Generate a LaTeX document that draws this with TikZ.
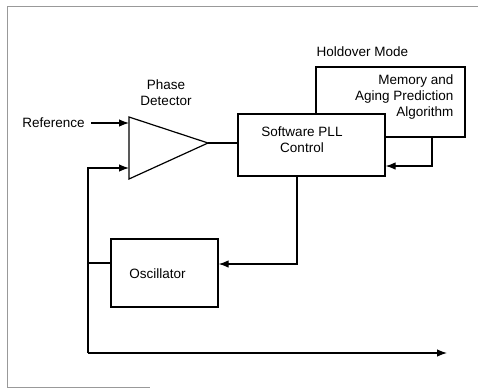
\documentclass[tikz,border=0pt]{standalone}
\usepackage{fontspec}
\setmainfont{Liberation Sans}
\usetikzlibrary{arrows.meta}
\tikzset{
  block/.style={draw, line width=1.2pt, inner sep=0pt},
  arr/.style={line width=1.2pt, -{Latex[length=10pt,width=7.5pt]}},
  wire/.style={line width=1.2pt}
}
\begin{document}
\begin{tikzpicture}[x=1pt, y=-1pt, font=\fontsize{13.5}{16}\selectfont]
\useasboundingbox (0,0) rectangle (478,388);
\draw [gray!80, line width=1pt] (478,6) -- (7,6) -- (7,387) -- (150,387);
% holdover branch
\node (holdover) [anchor=west] at (313,52) {Holdover Mode};
\node (memory) [block, minimum width=149pt, minimum height=70pt] at (390.5,102) {};
\node (memorytext) [align=right, anchor=east] at (457,97.5) {Memory and\\Aging Prediction\\Algorithm};
% phase detector
\coordinate (pdtop) at (129,117);
\coordinate (pdbot) at (129,179);
\coordinate (pdtip) at (208,143);
\coordinate (pdin1) at (129,123);
\coordinate (pdin2) at (129,168);
\draw [wire, line join=miter] (pdtop) -- (pdtip) -- (pdbot) -- cycle;
\node (pdtext) [align=center] at (166,93) {Phase\\Detector};
\node (ref) at (53.5,123) {Reference};
% loop blocks
\node (pll) [block, fill=white, minimum width=147pt, minimum height=62pt] at (311.5,145) {};
\node (plltext) [align=center] at (302,140) {Software PLL\\Control};
\node (osc) [block, minimum width=107pt, minimum height=68pt] at (164.5,273) {};
\node (osctext) at (157.5,274) {Oscillator};
\coordinate (fbcorner) at (88,353);
\coordinate (outend) at (447,353);
% connectors
\draw [arr, shorten <=3pt] (ref.east) -- (pdin1);
\draw [wire] (pdtip) -- (pdtip -| pll.west);
\draw [arr] ([xshift=41.5pt]memory.south) |- ([yshift=-21pt]pll.east);
\draw [arr] ([xshift=-14.5pt]pll.south) |- ([yshift=9pt]osc.east);
\draw [wire] ([yshift=10pt]osc.west) -- ([yshift=10pt]osc.west -| fbcorner);
\draw [arr] (fbcorner) |- (pdin2);
\draw [arr] (fbcorner) -- (outend);
\end{tikzpicture}
\end{document}
